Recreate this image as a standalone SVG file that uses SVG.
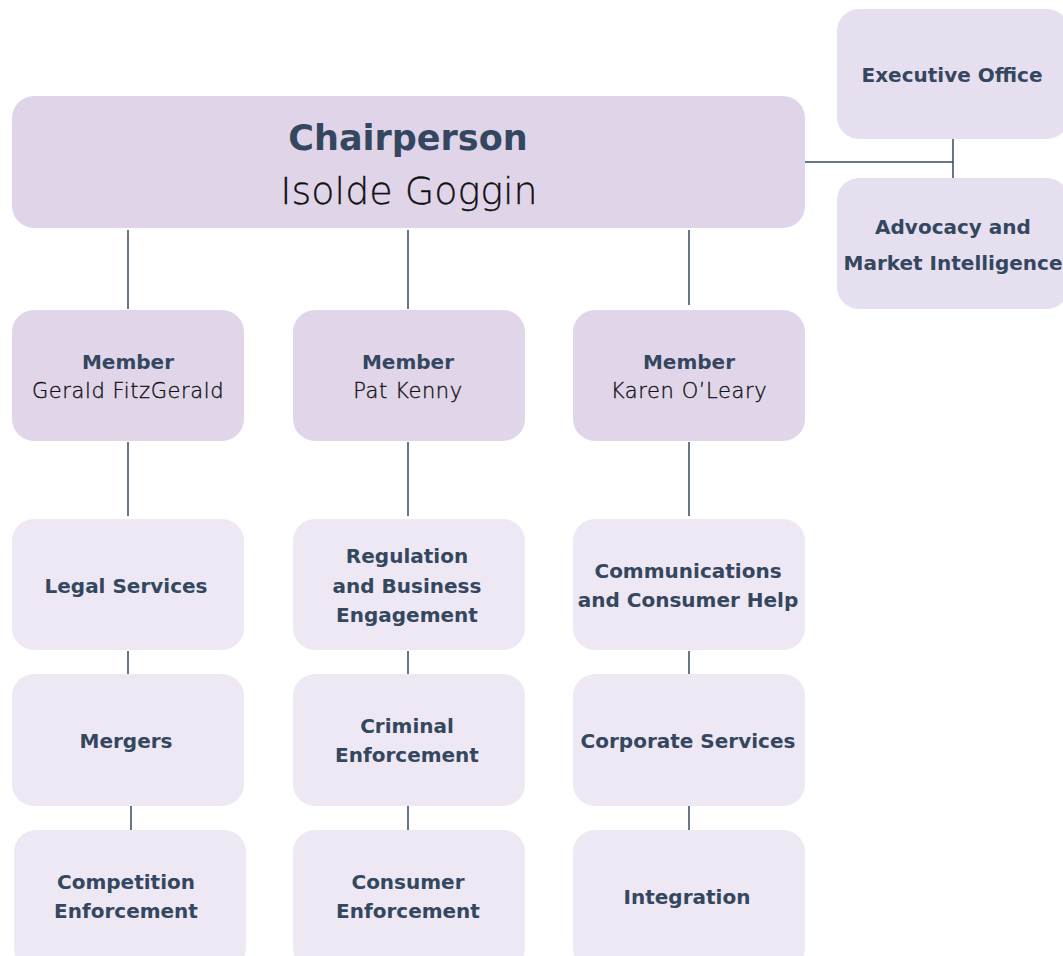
<svg xmlns="http://www.w3.org/2000/svg" width="1063" height="956" viewBox="0 0 1063 956">
  <style>
    .chair { fill: #e0d5e8; }
    .member { fill: #e1d6e9; }
    .side { fill: #e6dff0; }
    .unit { fill: #ede8f3; }
    .t { font-family: "DejaVu Sans", "Liberation Sans", sans-serif; text-anchor: middle; }
    .b { font-weight: 700; fill: #34475f; font-size: 20px; }
    .n { font-weight: 200; fill: #111111; stroke: #111111; stroke-width: 0.35; font-size: 21px; letter-spacing: 0.6px; }
    .link { stroke: #34475f; stroke-width: 1.5; fill: none; }
  </style>
  <rect width="1063" height="956" fill="#ffffff"/>

  <g id="connectors">
    <line class="link" x1="805" y1="162" x2="953" y2="162"/>
    <line class="link" x1="953" y1="139" x2="953" y2="178"/>
    <line class="link" x1="128" y1="230" x2="128" y2="309"/>
    <line class="link" x1="408" y1="230" x2="408" y2="309"/>
    <line class="link" x1="689" y1="230" x2="689" y2="305"/>
    <line class="link" x1="128" y1="442" x2="128" y2="516"/>
    <line class="link" x1="408" y1="442" x2="408" y2="516"/>
    <line class="link" x1="689" y1="442" x2="689" y2="516"/>
    <line class="link" x1="128" y1="651" x2="128" y2="674"/>
    <line class="link" x1="408" y1="651" x2="408" y2="674"/>
    <line class="link" x1="689" y1="651" x2="689" y2="674"/>
    <line class="link" x1="131" y1="806" x2="131" y2="830"/>
    <line class="link" x1="408" y1="806" x2="408" y2="830"/>
    <line class="link" x1="689" y1="806" x2="689" y2="830"/>
  </g>

  <g id="chairperson">
    <rect class="chair" x="12" y="96" width="793" height="132" rx="22"/>
    <text class="t" x="408" y="150" font-size="35" font-weight="700" fill="#34475f">Chairperson</text>
    <text class="t" x="409" y="204" font-size="38" font-weight="200" fill="#111111" stroke="#111111" stroke-width="0.3">Isolde Goggin</text>
  </g>

  <g id="executive-office">
    <rect class="side" x="837" y="9" width="232" height="130" rx="22"/>
    <text class="t b" x="952" y="82">Executive Office</text>
  </g>
  <g id="advocacy">
    <rect class="side" x="837" y="178" width="232" height="131" rx="22"/>
    <text class="t b" x="953" y="234" font-size="19.5">Advocacy and</text>
    <text class="t b" x="953" y="270" font-size="19.5">Market Intelligence</text>
  </g>

  <g id="member-fitzgerald">
    <rect class="member" x="12" y="310" width="232" height="131" rx="22"/>
    <text class="t b" x="128" y="369">Member</text>
    <text class="t n" x="128" y="398">Gerald FitzGerald</text>
  </g>
  <g id="member-kenny">
    <rect class="member" x="293" y="310" width="232" height="131" rx="22"/>
    <text class="t b" x="408" y="369">Member</text>
    <text class="t n" x="408" y="398">Pat Kenny</text>
  </g>
  <g id="member-oleary">
    <rect class="member" x="573" y="310" width="232" height="131" rx="22"/>
    <text class="t b" x="689" y="369">Member</text>
    <text class="t n" x="689" y="398">Karen O’Leary</text>
  </g>

  <g id="legal-services">
    <rect class="unit" x="12" y="519" width="232" height="131" rx="22"/>
    <text class="t b" x="126" y="593">Legal Services</text>
  </g>
  <g id="regulation">
    <rect class="unit" x="293" y="519" width="232" height="131" rx="22"/>
    <text class="t b" x="407" y="563">Regulation</text>
    <text class="t b" x="407" y="593">and Business</text>
    <text class="t b" x="407" y="622">Engagement</text>
  </g>
  <g id="communications">
    <rect class="unit" x="573" y="519" width="232" height="131" rx="22"/>
    <text class="t b" x="688" y="578">Communications</text>
    <text class="t b" x="688" y="607">and Consumer Help</text>
  </g>

  <g id="mergers">
    <rect class="unit" x="12" y="674" width="232" height="132" rx="22"/>
    <text class="t b" x="126" y="748">Mergers</text>
  </g>
  <g id="criminal-enforcement">
    <rect class="unit" x="293" y="674" width="232" height="132" rx="22"/>
    <text class="t b" x="407" y="733">Criminal</text>
    <text class="t b" x="407" y="762">Enforcement</text>
  </g>
  <g id="corporate-services">
    <rect class="unit" x="573" y="674" width="232" height="132" rx="22"/>
    <text class="t b" x="688" y="748">Corporate Services</text>
  </g>

  <g id="competition-enforcement">
    <rect class="unit" x="14" y="830" width="232" height="140" rx="22"/>
    <text class="t b" x="126" y="889">Competition</text>
    <text class="t b" x="126" y="918">Enforcement</text>
  </g>
  <g id="consumer-enforcement">
    <rect class="unit" x="293" y="830" width="232" height="140" rx="22"/>
    <text class="t b" x="408" y="889">Consumer</text>
    <text class="t b" x="408" y="918">Enforcement</text>
  </g>
  <g id="integration">
    <rect class="unit" x="573" y="830" width="232" height="140" rx="22"/>
    <text class="t b" x="687" y="904">Integration</text>
  </g>
</svg>
